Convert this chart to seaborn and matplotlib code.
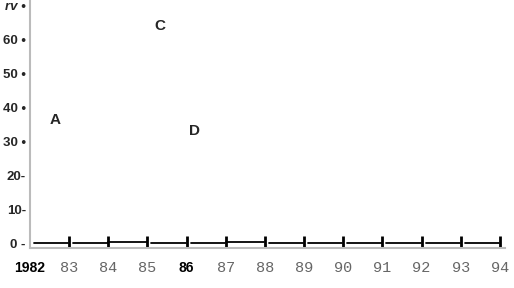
import pandas as pd
import matplotlib
matplotlib.use("Agg")
import matplotlib.pyplot as plt
import seaborn as sns

# data
years = [1982, 1983, 1984, 1985, 1986, 1987, 1988, 1989, 1990, 1991, 1992, 1993]
levels = [0.0, 0.0, 0.3, 0.0, 0.0, 0.3, 0.0, 0.0, 0.0, 0.0, 0.0, 0.0]
joined = [False, False, True, False, False, True, False, False, False, False, False, False]
tick_years = [1983, 1984, 1985, 1986, 1987, 1988, 1989, 1990, 1991, 1992, 1993, 1994]

x_ticks = [1982, 1983, 1984, 1985, 1986, 1987, 1988, 1989, 1990, 1991, 1992, 1993, 1994]
x_labels = ["1982", "83", "84", "85", "86", "87", "88", "89", "90", "91", "92", "93", "94"]
bold_x = ["1982", "86"]
y_ticks = [0, 10, 20, 30, 40, 50, 60, 70]
y_labels = ["0 -", "10-", "20-", "30 \u2022", "40 \u2022", "50 \u2022", "60 \u2022", "rv \u2022"]

point_names = ["A", "C", "D"]
point_x = [1982.64, 1985.32, 1986.19]
point_y = [36.2, 63.8, 32.9]

# segments between year ticks
rows = []
for i, (yr, lv) in enumerate(zip(years, levels)):
    start = yr if joined[i] else yr + 0.1
    rows.append({"seg": i, "x": start, "y": lv})
    rows.append({"seg": i, "x": yr + 0.98, "y": lv})
seg_df = pd.DataFrame(rows)

sns.set_style("white")
fig = plt.figure(figsize=(5.14, 2.88), dpi=100)
ax = fig.add_axes([30 / 514, 1 - 248 / 288, 475 / 514, 248 / 288])

sns.lineplot(data=seg_df, x="x", y="y", units="seg", estimator=None,
             color="black", linewidth=1.3, ax=ax)
sns.scatterplot(x=tick_years, y=[0] * len(tick_years), marker="|", s=90,
                linewidth=2, color="black", ax=ax)

for name, px, py in zip(point_names, point_x, point_y):
    ax.text(px, py, name, fontsize=11, fontweight="bold", ha="center",
            va="center", family="Liberation Sans")

ax.set_xlim(1982, 1994.13)
ax.set_ylim(-1.47, 71.5)

ax.set_xticks(x_ticks)
ax.set_xticklabels(x_labels)
for lab in ax.get_xticklabels():
    if lab.get_text() in bold_x:
        lab.set_family("Liberation Sans")
        lab.set_fontweight("bold")
        lab.set_fontsize(10)
        lab.set_color("black")
    else:
        lab.set_family("Liberation Mono")
        lab.set_fontsize(11)
        lab.set_color("#666666")
ax.set_yticks(y_ticks)
ax.set_yticklabels(y_labels, fontsize=9.5, fontweight="bold", family="Liberation Sans")
ax.get_yticklabels()[-1].set_style("italic")
ax.tick_params(axis="both", length=0)
ax.tick_params(axis="y", pad=3)
ax.tick_params(axis="x", pad=9)

ax.set_xlabel("Year", family="Liberation Mono", fontsize=11, color="#666666",
              labelpad=9)
ax.set_ylabel("")

for side in ["top", "right"]:
    ax.spines[side].set_visible(False)
for side in ["left", "bottom"]:
    ax.spines[side].set_color("#bbbbbb")
    ax.spines[side].set_linewidth(1.5)

fig.savefig("out.png", dpi=100)
